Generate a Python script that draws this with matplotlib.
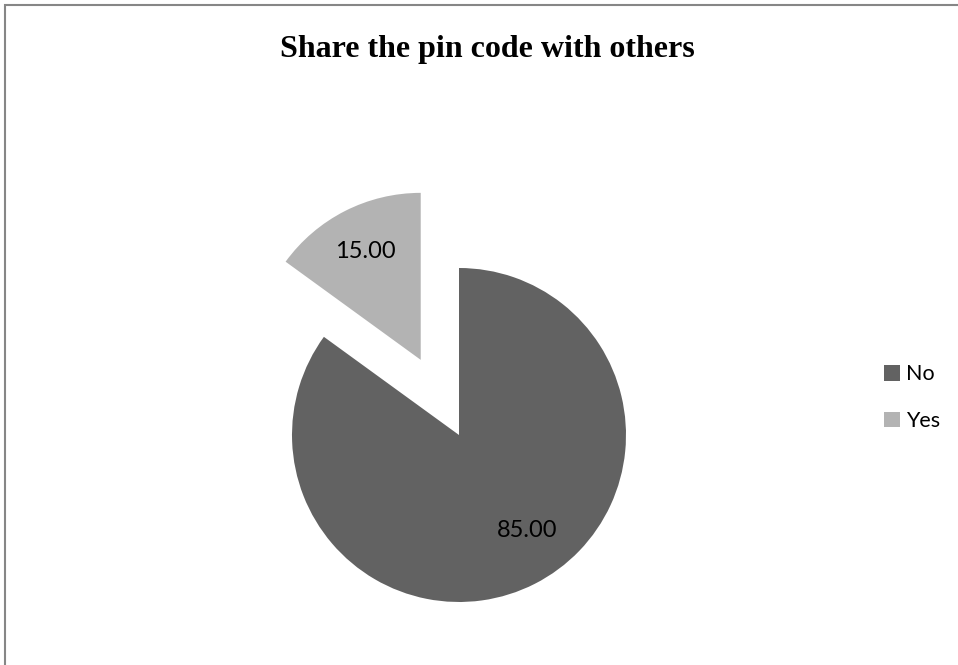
import numpy as np
import matplotlib
matplotlib.use("Agg")
import matplotlib.pyplot as plt
from matplotlib.patches import Rectangle

# survey answers
labels = ["No", "Yes"]
values = [85.00, 15.00]
colors = ["#626262", "#b3b3b3"]

W, H = 958, 665
fig = plt.figure(figsize=(W / 100, H / 100), dpi=100)
ax = fig.add_axes([0, 0, 1, 1])

# chart area border (runs off the right and bottom edges)
ax.add_patch(Rectangle((5, -20), W + 20, H - 5 + 20, fill=False,
                       edgecolor="#868686", linewidth=1.5))

cx, cy, r = 459, H - 435, 167
explode = [0, 0.505 * r]  # pie() takes the offset in data units
wedges, _ = ax.pie(values, colors=colors, explode=explode, startangle=90,
                   counterclock=False, center=(cx, cy), radius=r,
                   wedgeprops=dict(linewidth=0), frame=True)
ax.set_xlim(0, W)
ax.set_ylim(0, H)
ax.set_aspect("equal")
ax.axis("off")

# value labels inside each slice (radius fraction, angle nudge in degrees)
label_pos = [0.70, 0.73]
label_turn = [8.6, 0.0]
for w, v, f, t in zip(wedges, values, label_pos, label_turn):
    mid = np.deg2rad((w.theta1 + w.theta2) / 2 + t)
    x0, y0 = w.center
    ax.text(x0 + f * r * np.cos(mid), y0 + f * r * np.sin(mid), f"{v:.2f}",
            ha="center", va="center", fontsize=17, family="Lato", color="black")

ax.text(487, H - 57, "Share the pin code with others", ha="center", va="baseline",
        fontsize=23, fontweight="bold", family="Liberation Serif")

leg = ax.legend(wedges, labels, loc="upper left", bbox_to_anchor=(865 / W, 1 - 345 / H),
                frameon=False, handlelength=0.72, handleheight=0.72, handletextpad=0.3,
                labelspacing=1.25, prop={"family": "Lato", "size": 15.5})

fig.savefig("out.png", dpi=100)
